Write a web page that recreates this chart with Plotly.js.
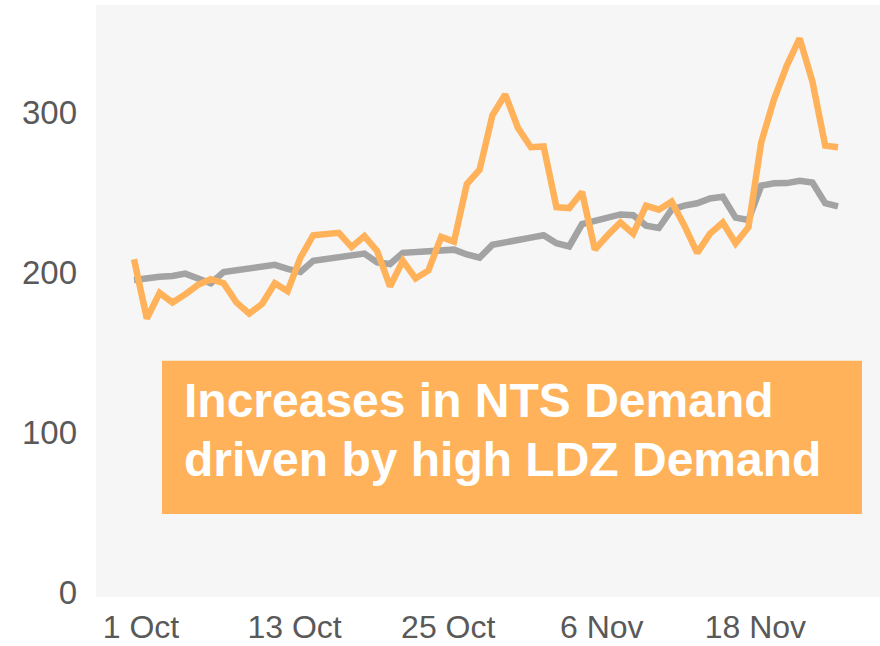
<!DOCTYPE html>
<html>
<head>
<meta charset="utf-8">
<script src="https://cdn.plot.ly/plotly-3.0.1.min.js"></script>
<style>html,body{margin:0;padding:0;background:#fff;}#chart{width:880px;height:646px;}</style>
</head>
<body>
<div id="chart"></div>
<script>
// Days (1 Oct .. 25 Nov)
const dates = [
 '2023-10-01','2023-10-02','2023-10-03','2023-10-04','2023-10-05','2023-10-06','2023-10-07','2023-10-08',
 '2023-10-09','2023-10-10','2023-10-11','2023-10-12','2023-10-13','2023-10-14','2023-10-15','2023-10-16',
 '2023-10-17','2023-10-18','2023-10-19','2023-10-20','2023-10-21','2023-10-22','2023-10-23','2023-10-24',
 '2023-10-25','2023-10-26','2023-10-27','2023-10-28','2023-10-29','2023-10-30','2023-10-31','2023-11-01',
 '2023-11-02','2023-11-03','2023-11-04','2023-11-05','2023-11-06','2023-11-07','2023-11-08','2023-11-09',
 '2023-11-10','2023-11-11','2023-11-12','2023-11-13','2023-11-14','2023-11-15','2023-11-16','2023-11-17',
 '2023-11-18','2023-11-19','2023-11-20','2023-11-21','2023-11-22','2023-11-23','2023-11-24','2023-11-25'
];
// Grey series (smoother, slowly rising)
const greySeries = [
 195,196.5,197,197.5,199,196,193,200,201,202,202.5,204.5,202,200,207,208,
 209,210,211.5,206,205,212,212.5,212.5,213,214,211,209,217,218,220,221.5,
 223,218,216,230,232,234,236,235.5,229,227.5,239,241.5,243,246,247,234,
 232.5,254,255.5,255.6,257,256,243,241
];
// Orange series (NTS demand, volatile)
const orangeSeries = [
 208,171,187,181,186,192,195.5,193,181,174,180,193,188,209,223,224,
 224.5,215.6,222.5,213,191,207,196,201,222,219,255,264,298,311,290,278,
 278.5,240.5,240,250,214,223,231,224,241.5,239,244,229,212,224,231,218,
 228,281,308,329,346,319,279,278
];
const tickDates = ['2023-10-01','2023-10-13','2023-10-25','2023-11-06','2023-11-18'];
const tickText = ['1 Oct','13 Oct','25 Oct','6 Nov','18 Nov'];
const yTicks = [0,100,200,300];
const noteLines = ['Increases in NTS Demand','driven by high LDZ Demand'];

const orange = '#FFB259';
const grey = '#A3A3A3';

const traces = [
 {x: dates, y: greySeries, type:'scatter', mode:'lines', line:{color:grey, width:6.5}, hoverinfo:'skip'},
 {x: dates, y: orangeSeries, type:'scatter', mode:'lines', line:{color:orange, width:6.5}, hoverinfo:'skip'}
];

const layout = {
 width:880, height:646,
 margin:{l:96, r:0, t:5, b:49},
 paper_bgcolor:'#ffffff',
 plot_bgcolor:'#F6F6F6',
 showlegend:false,
 font:{family:'"Liberation Sans", Arial, sans-serif', color:'#595959', size:33},
 xaxis:{
  type:'date',
  range:['2023-09-28 00:43','2023-11-28 06:43'],
  tickvals: tickDates, ticktext: tickText,
  showgrid:false, zeroline:false, showline:false, ticks:'',
  ticklabelshift:7, ticklabelstandoff:8,
  tickfont:{size:32, color:'#595959'}
 },
 yaxis:{
  range:[-3.1, 366.9],
  tickvals: yTicks,
  showgrid:false, zeroline:false, showline:false, ticks:'',
  ticklabelstandoff:18,
  tickfont:{size:33, color:'#595959'}
 },
 shapes:[
  {type:'rect', xref:'paper', yref:'paper', x0:0.0842, x1:0.977, y0:0.140, y1:0.399,
   fillcolor:orange, line:{width:0}, layer:'above'}
 ],
 annotations:[
  {xref:'paper', yref:'paper', x:0.1097, y:0.332, xanchor:'left', yanchor:'middle', showarrow:false,
   text:'<b>'+noteLines[0]+'</b>', font:{size:48, color:'#ffffff', family:'"Liberation Sans", Arial, sans-serif'}},
  {xref:'paper', yref:'paper', x:0.1097, y:0.233, xanchor:'left', yanchor:'middle', showarrow:false,
   text:'<b>'+noteLines[1]+'</b>', font:{size:48, color:'#ffffff', family:'"Liberation Sans", Arial, sans-serif'}}
 ]
};

Plotly.newPlot('chart', traces, layout, {displayModeBar:false, staticPlot:true});
</script>
</body>
</html>
